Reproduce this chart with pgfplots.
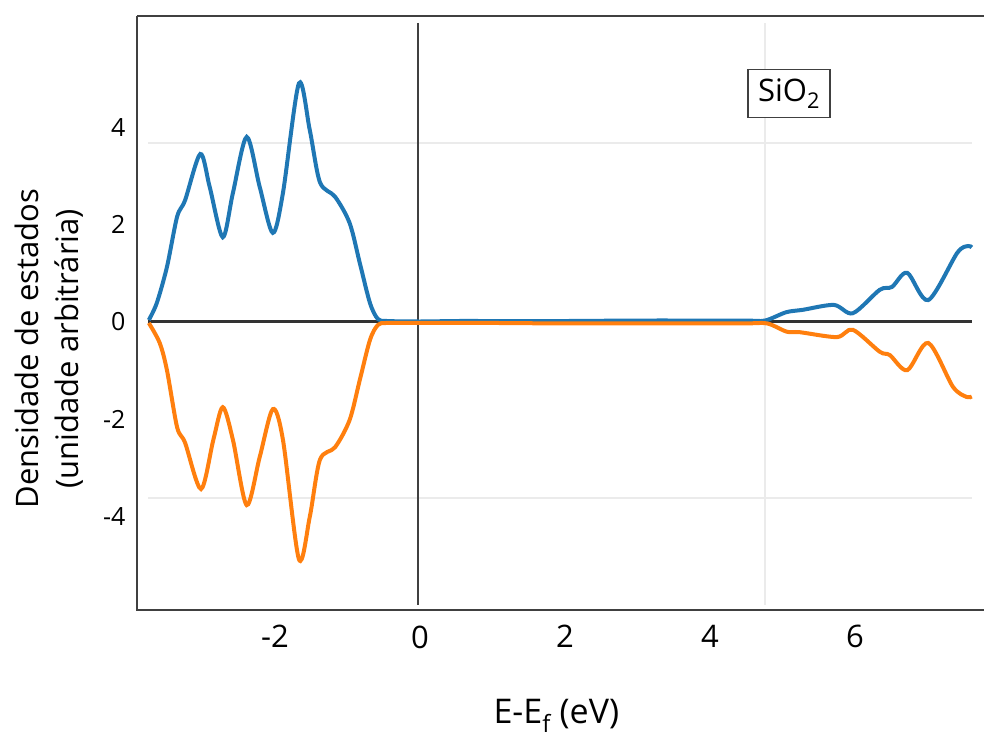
\documentclass[border=0pt]{standalone}
\usepackage{pgfplots}
\pgfplotsset{compat=1.18}
\usepackage{fontspec}
\setmainfont{Open Sans}
\definecolor{cblue}{HTML}{1F77B4}
\definecolor{corange}{HTML}{FF7F0E}
\definecolor{frame}{HTML}{404040}
\definecolor{gridc}{HTML}{EBEBEB}
\begin{document}
\begin{tikzpicture}
\begin{axis}[
  scale only axis,
  width=847pt, height=594pt,
  xmin=-3.903, xmax=7.779,
  ymin=-5.914, ymax=6.283,
  axis line style={draw=none},
  xtick={-2,0,2,4,6},
  ytick={-4,-2,0,2,4},
  major tick length=0pt,
  /pgf/number format/assume math mode=true,
  xticklabel style={font=\fontsize{31}{36}\selectfont, yshift=-12pt},
  yticklabel style={font=\fontsize{25}{30}\selectfont, xshift=-8pt},
  xlabel={E-E\textsubscript{f} (eV)},
  ylabel={Densidade de estados\\(unidade arbitrária)},
  ylabel style={font=\fontsize{31}{40}\selectfont, align=center, at={(axis cs:-3.903,-0.55)}, anchor=south, yshift=53pt, inner sep=0pt},
  xlabel style={font=\fontsize{34}{40}\selectfont, at={(axis cs:1.88,-5.914)}, anchor=base, yshift=-113pt, inner sep=0pt},
  clip=false,
]
% frame
\addplot[frame, line width=1.8pt, forget plot] coordinates {(-3.903,6.283) (-3.903,-5.914) (7.779,-5.914)};
\addplot[frame, line width=1.8pt, forget plot] coordinates {(-3.903,6.283) (7.779,6.283)};
% grid lines
\addplot[gridc, line width=1.8pt, forget plot] coordinates {(-3.75,3.68) (7.61,3.68)};
\addplot[gridc, line width=1.8pt, forget plot] coordinates {(-3.75,-3.61) (7.61,-3.61)};
\addplot[gridc, line width=1.8pt, forget plot] coordinates {(4.76,6.14) (4.76,-5.81)};
% reference lines
\addplot[frame, line width=1.8pt, forget plot] coordinates {(-0.03,6.14) (-0.03,-5.81)};
\addplot[black!80, line width=3pt, forget plot] coordinates {(-3.75,0) (7.61,0)};
% spin up
\addplot[cblue, line width=4pt, smooth, tension=0.5] coordinates {
(-3.74,0.04) (-3.63,0.39) (-3.49,1.13) (-3.35,2.16) (-3.24,2.50) (-3.03,3.45)
(-2.90,2.77) (-2.72,1.74) (-2.58,2.65) (-2.39,3.80) (-2.21,2.77) (-2.03,1.83)
(-1.89,2.65) (-1.67,4.90) (-1.52,3.94) (-1.38,2.87) (-1.17,2.57) (-0.97,2.03)
(-0.83,1.21) (-0.69,0.39) (-0.58,0.06) (-0.45,0.02) (0,0.01) (0.5,0.02) (1,0.02)
(2,0.02) (3,0.03) (4,0.03) (4.5,0.03) (4.76,0.03) (5.05,0.20) (5.28,0.25)
(5.71,0.35) (5.97,0.18) (6.34,0.66) (6.51,0.72) (6.72,1.01) (7.01,0.45)
(7.41,1.42) (7.56,1.56) (7.61,1.53)};
% spin down
\addplot[corange, line width=4pt, smooth, tension=0.5] coordinates {
(-3.74,-0.02) (-3.59,-0.43) (-3.49,-0.99) (-3.35,-2.16) (-3.24,-2.48) (-3.02,-3.43)
(-2.85,-2.42) (-2.72,-1.75) (-2.58,-2.42) (-2.39,-3.76) (-2.21,-2.77) (-2.03,-1.79)
(-1.89,-2.42) (-1.67,-4.87) (-1.52,-4.00) (-1.38,-2.83) (-1.17,-2.57) (-0.97,-2.01)
(-0.83,-1.19) (-0.69,-0.37) (-0.58,-0.06) (-0.45,-0.02) (0,-0.02) (0.5,-0.02) (1,-0.02)
(2,-0.03) (3,-0.03) (4,-0.03) (4.5,-0.03) (4.79,-0.03) (5.06,-0.20) (5.24,-0.21)
(5.75,-0.31) (5.97,-0.16) (6.34,-0.61) (6.48,-0.68) (6.72,-0.99) (7.01,-0.43)
(7.35,-1.33) (7.54,-1.54) (7.61,-1.53)};
\node[draw=frame, line width=1.3pt, fill=white, inner sep=0pt, minimum width=82pt, minimum height=48pt,
  font=\fontsize{31}{34}\selectfont] at (axis cs:5.09,4.69) {SiO\textsubscript{2}};
\end{axis}
\pgfresetboundingbox
\path (-137pt,-132pt) rectangle (847pt,610pt);
\end{tikzpicture}
\end{document}
